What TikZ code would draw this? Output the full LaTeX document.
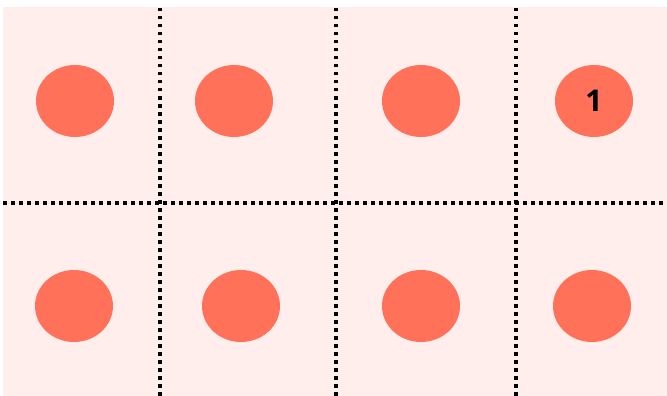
\documentclass[tikz,border=0pt]{standalone}
\usepackage{fontspec}
\setsansfont{Open Sans}
\usetikzlibrary{shapes.geometric}
\definecolor{cellpink}{HTML}{FFEEEC}
\definecolor{dotred}{HTML}{FF7158}

\begin{document}
\begin{tikzpicture}[
  x=1pt, y=-1pt,
  font=\sffamily\bfseries,
  seat/.style={ellipse, fill=dotred, minimum width=78pt, minimum height=72pt,
               inner sep=0pt, font=\sffamily\bfseries\fontsize{30}{32}\selectfont},
  split/.style={line width=3.5pt, dash pattern=on 3.5pt off 4.5pt, black},
]
  \useasboundingbox (0,0) rectangle (667,396);
  \fill[cellpink] (3,7) rectangle (667,396);

  % grid lines
  \draw[split] (3,203) -- (667,203);
  \draw[split] (160,8) -- (160,396);
  \draw[split] (336,8) -- (336,396);
  \draw[split] (516,8) -- (516,396);

  % top row
  \node[seat] (a1) at (75,101) {};
  \node[seat] (a2) at (234,101) {};
  \node[seat] (a3) at (421,101) {};
  \node[seat] (a4) at (594,101) {1};

  % bottom row
  \node[seat] (b1) at (74,306) {};
  \node[seat] (b2) at (241,306) {};
  \node[seat] (b3) at (421,306) {};
  \node[seat] (b4) at (592,306) {};
\end{tikzpicture}
\end{document}
